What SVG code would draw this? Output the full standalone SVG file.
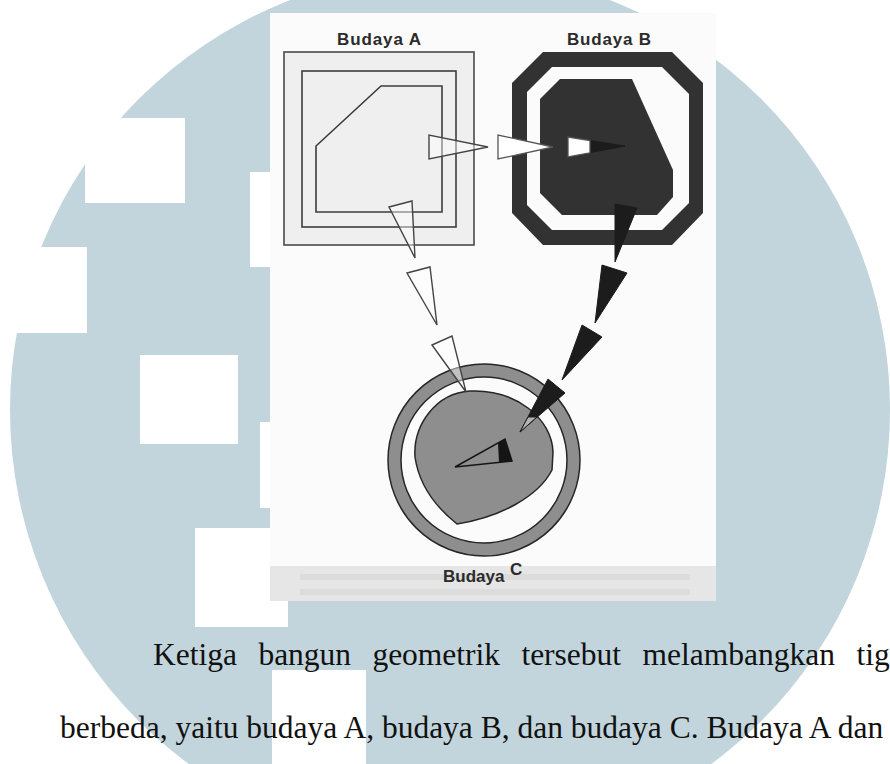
<svg xmlns="http://www.w3.org/2000/svg" width="890" height="764" viewBox="0 0 890 764">
  <style>
    .lbl { font-family: "Liberation Sans", Arial, sans-serif; font-weight: bold; font-size: 17px; fill: #2b2b2b; }
    .body { font-family: "Liberation Serif", "Times New Roman", serif; font-size: 31.5px; fill: #111; }
    .ln { fill: none; stroke: #3c3c3c; stroke-width: 1.6; }
    .wl { fill: #fff; fill-opacity: 0.45; stroke: #444; stroke-width: 1.4; stroke-linejoin: miter; }
    .wf { fill: #fff; stroke: #555; stroke-width: 1.3; }
    .wd { fill: #1c1c1c; stroke: #1c1c1c; stroke-width: 1; stroke-linejoin: miter; }
    .dark { fill: #323232; }
    .gray { fill: #8e8e8e; stroke: #262626; stroke-width: 1.5; }
    .hole { fill: #fbfbfb; stroke: #262626; stroke-width: 1.5; }
    .wm { fill: #c2d5dc; }
  </style>

  <!-- page background with the pale blue seal -->
  <rect x="0" y="0" width="890" height="764" fill="#ffffff"/>
  <g id="seal">
    <circle class="wm" cx="450" cy="410" r="440"/>
    <g fill="#ffffff">
      <rect x="85" y="118" width="100" height="85"/>
      <rect x="0" y="247" width="87" height="86"/>
      <rect x="140" y="355" width="98" height="89"/>
      <rect x="250" y="172" width="20" height="95"/>
      <rect x="260" y="422" width="10" height="86"/>
      <rect x="195" y="528" width="93" height="99"/>
      <rect x="272" y="670" width="94" height="94"/>
    </g>
  </g>

  <!-- scanned figure panel -->
  <g id="panel">
    <rect x="270" y="13" width="446" height="588" fill="#fbfbfb"/>
    <rect x="270" y="566" width="446" height="35" fill="#e6e6e6"/>
    <rect x="300" y="574" width="390" height="6" fill="#d6d6d6" opacity="0.6"/>
    <rect x="300" y="589" width="390" height="6" fill="#d6d6d6" opacity="0.6"/>
  </g>

  <!-- culture A: nested squares around a cut-corner polygon -->
  <g id="node-a">
    <rect x="284" y="52" width="190" height="193" fill="#efefef" stroke="#4a4a4a" stroke-width="1.6"/>
    <rect class="ln" x="302" y="71" width="154" height="156"/>
    <polygon class="ln" points="381,86 442,86 442,212 316,212 316,146"/>
    <text class="lbl" x="337" y="45" textLength="84">Budaya A</text>
  </g>

  <!-- culture B: dark octagonal band around a dark core -->
  <g id="node-b">
    <polygon class="dark" points="543,52 672,52 703,83 703,213 672,245 543,245 512,213 512,83"/>
    <polygon fill="#fbfbfb" points="552,67 662,67 689,94 689,203 662,230 552,230 527,205 527,92"/>
    <polygon class="dark" points="560,79 632,79 673,170 673,197 657,215 562,215 540,193 540,99"/>
    <text class="lbl" x="567" y="45" textLength="84">Budaya B</text>
  </g>

  <!-- culture C: grey ring around a rounded core -->
  <g id="node-c">
    <circle class="gray" cx="484" cy="460" r="96"/>
    <circle class="hole" cx="484" cy="460" r="83"/>
    <path class="gray" d="M457,524 C437,508 419,485 415,457 C413,425 436,393 470,391 C515,389 552,418 553,452 L552,470 C538,497 500,517 457,524 Z"/>
    <polygon fill="none" stroke="#151515" stroke-width="1.5" points="455,467 505,439 512,461"/>
    <polygon fill="#151515" points="498,443 505,439 512,461 499,462.4"/>
    <text class="lbl" x="443" y="582">Budaya</text>
    <text class="lbl" x="510" y="575">C</text>
  </g>

  <!-- wedges carrying influence between the cultures -->
  <g id="connectors">
    <!-- A to B -->
    <polygon class="wl" points="429,135 429,159 488,147"/>
    <polygon class="wf" points="498,135 498,159 553,147"/>
    <polygon class="wd" fill="#111" points="568,137 568,157 625,146"/>
    <polygon class="wf" points="568,137 590,140.5 590,152.8 568,157"/>
    <!-- A to C -->
    <polygon class="wl" points="389,207 412,201 415,258"/>
    <polygon class="wl" points="407,273 430,267 437,325"/>
    <polygon class="wl" points="432,345 452,336 466,392"/>
    <!-- B to C -->
    <polygon class="wd" points="615,204 637,208 615,262"/>
    <polygon class="wd" points="602,265 627,273 595,323"/>
    <polygon class="wd" points="582,325 602,337 562,380"/>
    <polygon class="wd" points="548,379 565,393 520,432"/>
    <polygon fill="#b4b4b4" stroke="#1c1c1c" stroke-width="1" points="528,417 537,417 520,432"/>
  </g>

  <!-- body text -->
  <text class="body" y="665"><tspan x="153">Ketiga</tspan><tspan x="258.4">bangun</tspan><tspan x="372.4">geometrik</tspan><tspan x="521.4">tersebut</tspan><tspan x="642.5">melambangkan</tspan><tspan x="856.4">tig</tspan></text>
  <text class="body" x="60" y="738">berbeda, yaitu budaya A, budaya B, dan budaya C. Budaya A dan</text>
</svg>
